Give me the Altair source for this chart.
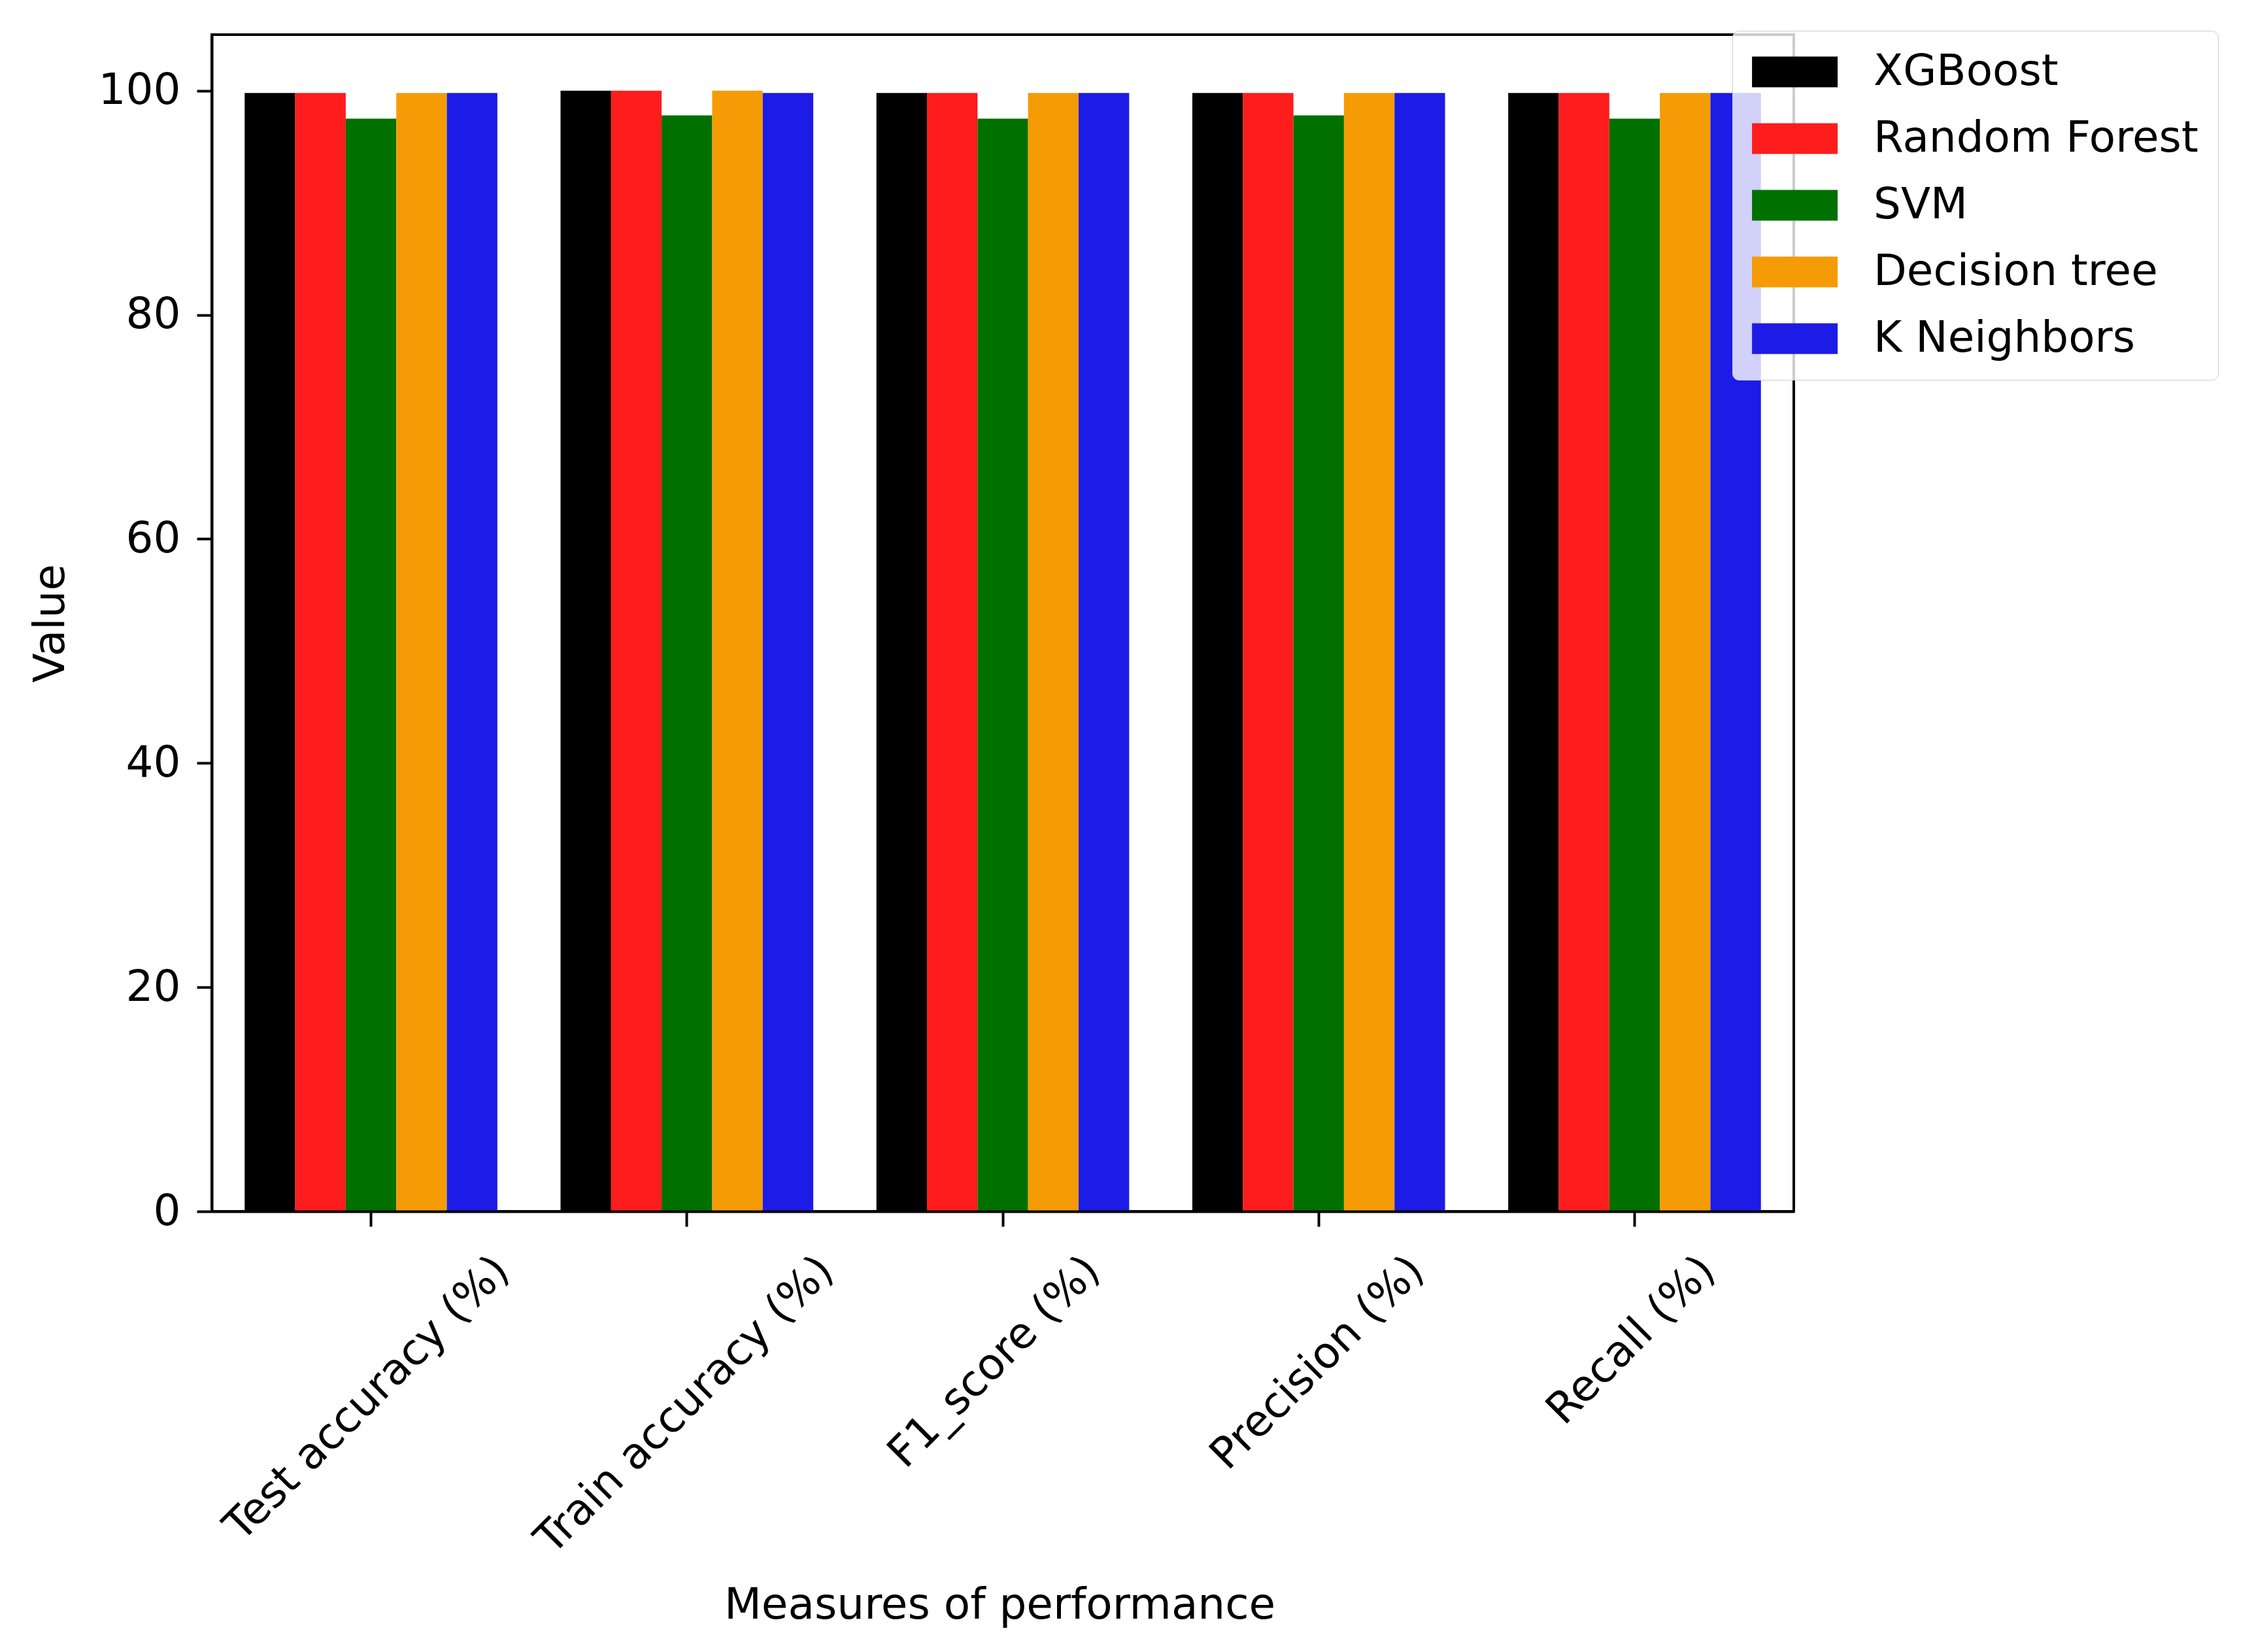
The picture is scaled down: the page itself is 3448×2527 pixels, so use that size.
import altair as alt
import pandas as pd

# 성능 지표 (x축 범주)
metrics = ["Test accuracy (%)", "Train accuracy (%)", "F1_score (%)", "Precision (%)", "Recall (%)"]
models = ["XGBoost", "Random Forest", "SVM", "Decision tree", "K Neighbors"]
colors = ["#000000", "#fe1c1c", "#007000", "#f59b05", "#1c1ce6"]

# 모델별 값 (metrics 순서)
xgboost = [99.8, 100.0, 99.8, 99.8, 99.8]
random_forest = [99.8, 100.0, 99.8, 99.8, 99.8]
svm = [97.5, 97.8, 97.5, 97.8, 97.5]
decision_tree = [99.8, 100.0, 99.8, 99.8, 99.8]
k_neighbors = [99.8, 99.8, 99.8, 99.8, 99.8]

series = [xgboost, random_forest, svm, decision_tree, k_neighbors]
rows = []
for model, vals in zip(models, series):
    for metric, v in zip(metrics, vals):
        rows.append({"metric": metric, "model": model, "value": v})
df = pd.DataFrame(rows)

FONT = "DejaVu Sans"
FS = 66

# 범례 심볼: 가로로 긴 사각형
sym_path = "M-1.4,-1L4.174,-1L4.174,1L-1.4,1Z"

chart = alt.Chart(df).mark_bar().encode(
    x=alt.X(
        "metric:N",
        sort=metrics,
        title="Measures of performance",
        scale=alt.Scale(paddingInner=0.2, paddingOuter=0.104),
        axis=alt.Axis(
            labelAngle=-45,
            labelAlign="right",
            labelBaseline="top",
            labelOffset={"expr": "12.6 * length(datum.label) - 36"},
            labelPadding=34,
            labelFont=FONT,
            labelFontSize=FS,
            labelColor="black",
            labelLimit=0,
            labelOverlap=False,
            tickSize=23,
            tickWidth=4,
            tickColor="black",
            domainColor="black",
            domainWidth=4,
            titleFont=FONT,
            titleFontSize=FS,
            titleFontWeight="normal",
            titleColor="black",
            titleX=1205,
            titleY=602,
            titleAlign="center",
            titleBaseline="middle",
            grid=False,
            zindex=1,
        ),
    ),
    xOffset=alt.XOffset("model:N", sort=models, scale=alt.Scale(paddingInner=0, paddingOuter=0)),
    y=alt.Y(
        "value:Q",
        title="Value",
        scale=alt.Scale(domain=[0, 105], nice=False, zero=True),
        axis=alt.Axis(
            values=[0, 20, 40, 60, 80, 100],
            labelFont=FONT,
            labelFontSize=FS,
            labelColor="black",
            labelPadding=25,
            tickSize=23,
            tickWidth=4,
            tickColor="black",
            domainColor="black",
            domainWidth=4,
            titleFont=FONT,
            titleFontSize=FS,
            titleFontWeight="normal",
            titleColor="black",
            titleAngle=270,
            titleX=-247,
            titleY=900,
            titleAlign="center",
            titleBaseline="middle",
            grid=False,
            zindex=1,
        ),
    ),
    color=alt.Color(
        "model:N",
        sort=models,
        scale=alt.Scale(domain=models, range=colors),
        legend=alt.Legend(
            title=None,
            orient="none",
            legendX=2326,
            legendY=-6,
            symbolType=sym_path,
            symbolSize=2209,
            symbolStrokeWidth=0,
            symbolOpacity=1,
            labelFont=FONT,
            labelFontSize=FS,
            labelColor="black",
            labelOffset=120,
            labelLimit=0,
            rowPadding=36,
            padding=30,
            fillColor="rgba(255,255,255,0.8)",
            strokeColor="#cccccc",
            cornerRadius=10,
        ),
    ),
).properties(
    width=2420,
    height=1800,
    background="white",
    autosize=alt.AutoSizeParams(type="none"),
    padding={"left": 316, "top": 45, "right": 696, "bottom": 666},
).configure_view(
    stroke="black",
    strokeWidth=4,
)

chart.save("out.html", embed_options={"renderer": "svg", "actions": False})
